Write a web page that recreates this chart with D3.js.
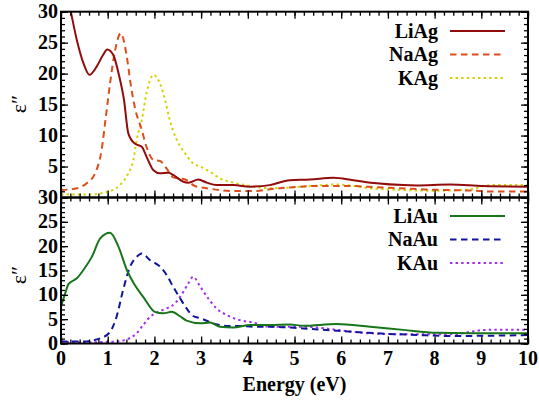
<!DOCTYPE html>
<html>
<head>
<meta charset="utf-8">
<script src="https://cdn.jsdelivr.net/npm/d3@7"></script>
</head>
<body style="margin:0">
<svg id="chart" width="539" height="400"></svg>
<script>
// ---- data (energy in eV, epsilon'') ----
const liAgE = [0.10,0.21,0.34,0.48,0.61,0.76,0.90,0.99,1.12,1.24,1.35,1.44,1.58,1.73,1.83,1.98,2.12,2.30,2.41,2.62,2.73,2.94,3.12,3.33,3.69,4.05,4.47,4.90,5.33,5.83,6.26,6.76,7.33,7.60,8.33,9.04,10.0];
const liAgV = [34.0,30.0,25.4,21.7,19.8,21.1,23.0,23.9,23.0,19.8,15.7,10.4,8.7,8.2,6.6,4.4,3.9,4.0,3.6,2.55,2.4,2.9,2.4,2.0,2.0,1.75,2.0,2.8,2.9,3.2,2.8,2.3,2.0,1.95,2.1,1.85,1.75];
const naAgE = [0.0,0.34,0.55,0.73,0.87,0.96,1.05,1.16,1.28,1.41,1.49,1.58,1.73,1.83,1.98,2.12,2.26,2.40,2.66,2.87,3.12,3.40,3.65,3.92,4.19,4.44,4.69,4.97,5.44,5.97,6.22,6.76,7.26,7.80,8.33,8.83,9.19,9.69,10.0];
const naAgV = [1.2,1.5,2.3,3.9,7.7,13.0,18.4,23.8,26.5,22.7,18.4,14.6,10.9,8.2,6.05,5.9,4.7,3.25,2.9,1.85,1.5,1.2,1.05,1.05,1.05,1.3,1.5,1.65,1.85,1.85,1.85,1.65,1.5,1.3,1.2,1.1,0.95,0.95,0.95];
const kAgE = [0.0,0.6,0.98,1.26,1.44,1.55,1.62,1.73,1.83,1.98,2.12,2.23,2.33,2.48,2.66,2.83,2.98,3.19,3.40,3.69,4.05,4.47,5.19,5.90,6.62,7.33,8.04,8.76,9.19,10.0];
const kAgV = [0.5,0.5,0.9,2.0,3.9,6.05,9.3,12.5,16.8,19.8,18.4,15.7,12.5,9.3,7.1,5.5,5.0,4.15,3.1,2.4,1.85,1.5,1.75,2.1,1.5,1.2,1.1,1.3,2.0,2.0];

const liAuE = [0.0,0.09,0.16,0.34,0.48,0.66,0.84,1.05,1.23,1.41,1.58,1.76,2.01,2.19,2.37,2.55,2.69,2.98,3.19,3.40,3.69,4.05,4.47,4.90,5.19,5.90,6.62,7.33,8.04,8.76,9.47,10.0];
const liAuV = [7.6,10.3,12.2,13.4,15.1,17.8,21.6,22.75,19.9,15.1,12.0,9.6,6.5,6.2,6.5,5.6,4.7,4.15,4.3,3.45,3.3,3.8,3.8,3.9,3.65,4.0,3.45,2.8,2.2,2.1,2.1,2.1];
const naAuE = [0.0,0.48,0.84,1.05,1.19,1.33,1.48,1.62,1.73,1.91,2.12,2.26,2.40,2.55,2.69,2.83,2.98,3.26,3.55,3.84,4.12,4.47,5.19,6.04,6.76,7.62,8.33,9.19,10.0];
const naAuV = [0.4,0.4,1.05,2.4,5.5,11.0,15.8,17.8,18.5,17.1,15.8,14.1,11.7,9.3,7.2,5.65,5.2,4.15,3.6,3.6,3.45,3.45,3.1,2.55,2.1,1.75,1.55,1.6,1.75];
const kAuE = [0.0,0.48,0.84,1.19,1.41,1.62,1.76,1.91,2.08,2.26,2.44,2.58,2.73,2.83,2.98,3.15,3.33,3.55,3.83,4.12,4.47,5.19,5.48,5.90,6.62,7.33,8.04,8.47,8.76,9.12,10.0];
const kAuV = [0.4,0.2,0.3,0.4,0.85,2.1,3.8,5.5,6.5,7.2,8.25,10.0,12.4,13.7,11.7,9.3,7.2,5.85,4.8,4.3,3.45,3.45,3.3,2.8,2.1,1.9,1.9,1.95,2.4,2.8,2.8];

const xTicks = [0,1,2,3,4,5,6,7,8,9,10];
const yTicks = [0,5,10,15,20,25,30];
const topNames = ["LiAg","NaAg","KAg"];
const botNames = ["LiAu","NaAu","KAu"];

const FONT = '"Liberation Serif"';

const svg = d3.select("#chart");
const L = 61, R = 528;
const panels = [
  {top: 11.7, bottom: 197.5, series: [
    {name: topNames[0], E: liAgE, V: liAgV, color: "#920c0c", dash: null},
    {name: topNames[1], E: naAgE, V: naAgV, color: "#dc4f1c", dash: "6.5,4.5"},
    {name: topNames[2], E: kAgE, V: kAgV, color: "#d2d200", dash: "2.4,3.2"}
  ], labelSkip0: true, legendY: 31, ylabY: 104},
  {top: 197.5, bottom: 343.5, series: [
    {name: botNames[0], E: liAuE, V: liAuV, color: "#17761a", dash: null},
    {name: botNames[1], E: naAuE, V: naAuV, color: "#10159a", dash: "6.5,4.5"},
    {name: botNames[2], E: kAuE, V: kAuV, color: "#a02cf0", dash: "2.4,3.2"}
  ], labelSkip0: false, legendY: 216, ylabY: 275}
];

const x = d3.scaleLinear().domain([0,10]).range([L,R]);

function addText(parent, xx, yy, anchor, str) {
  return parent.append("text").attr("x", xx).attr("y", yy).attr("text-anchor", anchor)
    .attr("font-size", 20).attr("font-weight", "bold")
    .style("font-family", FONT).text(str);
}

panels.forEach((p, pi) => {
  const y = d3.scaleLinear().domain([0,30]).range([p.bottom, p.top]);
  const g = svg.append("g");
  const cid = "clip" + pi;
  svg.append("clipPath").attr("id", cid).append("rect")
    .attr("x", L).attr("y", p.top).attr("width", R - L).attr("height", p.bottom - p.top);

  const line = d3.line().x(d => x(d[0])).y(d => y(d[1])).curve(d3.curveMonotoneX);
  const lg = g.append("g").attr("clip-path", `url(#${cid})`);
  p.series.slice().reverse().forEach(s => {
    const pts = s.E.map((e, i) => [e, s.V[i]]);
    lg.append("path").attr("d", line(pts)).attr("fill", "none")
      .attr("stroke", s.color).attr("stroke-width", 2)
      .attr("stroke-dasharray", s.dash);
  });

  const minorX = d3.range(0, 10.001, 0.2);
  const minorY = d3.range(0, 30.001, 1);
  const axB = d3.axisBottom(x).tickValues(minorX).tickSize(-4).tickFormat("");
  const axT = d3.axisTop(x).tickValues(minorX).tickSize(-4).tickFormat("");
  const axBM = d3.axisBottom(x).tickValues(xTicks).tickSize(-7).tickFormat("");
  const axTM = d3.axisTop(x).tickValues(xTicks).tickSize(-7).tickFormat("");
  const axL = d3.axisLeft(y).tickValues(minorY).tickSize(-4).tickFormat("");
  const axR = d3.axisRight(y).tickValues(minorY).tickSize(-4).tickFormat("");
  const axLM = d3.axisLeft(y).tickValues(yTicks).tickSize(-7).tickFormat("");
  const axRM = d3.axisRight(y).tickValues(yTicks).tickSize(-7).tickFormat("");
  [[axB,`translate(0,${p.bottom})`],[axBM,`translate(0,${p.bottom})`],
   [axT,`translate(0,${p.top})`],[axTM,`translate(0,${p.top})`],
   [axL,`translate(${L},0)`],[axLM,`translate(${L},0)`],
   [axR,`translate(${R},0)`],[axRM,`translate(${R},0)`]].forEach(([a,t]) => {
    const ag = g.append("g").attr("transform", t).call(a);
    ag.select(".domain").remove();
    ag.selectAll("text").remove();
    ag.selectAll("line").attr("stroke", "#000").attr("stroke-width", 1.3);
  });
  g.append("rect").attr("x", L).attr("y", p.top).attr("width", R - L).attr("height", p.bottom - p.top)
    .attr("fill", "none").attr("stroke", "#000").attr("stroke-width", 2);

  yTicks.filter(v => !(p.labelSkip0 && v === 0)).forEach(v => {
    addText(svg, 58, y(v) + 6.5, "end", String(v));
  });

  svg.append("text").attr("transform", `translate(26,${p.ylabY}) rotate(-90)`)
    .attr("text-anchor", "middle").attr("font-size", 22)
    .style("font-family", FONT).text("ε\u2033");

  p.series.forEach((s, i) => {
    const ly = p.legendY + i * 23.5;
    addText(svg, 438, ly + 6.5, "end", s.name);
    g.append("line").attr("x1", 450).attr("x2", 505).attr("y1", ly).attr("y2", ly)
      .attr("stroke", s.color).attr("stroke-width", 2).attr("stroke-dasharray", s.dash);
  });
});

xTicks.forEach(d => addText(svg, x(d), 365, "middle", String(d)));
addText(svg, (L + R) / 2, 391, "middle", "Energy (eV)");
</script>
</body>
</html>
